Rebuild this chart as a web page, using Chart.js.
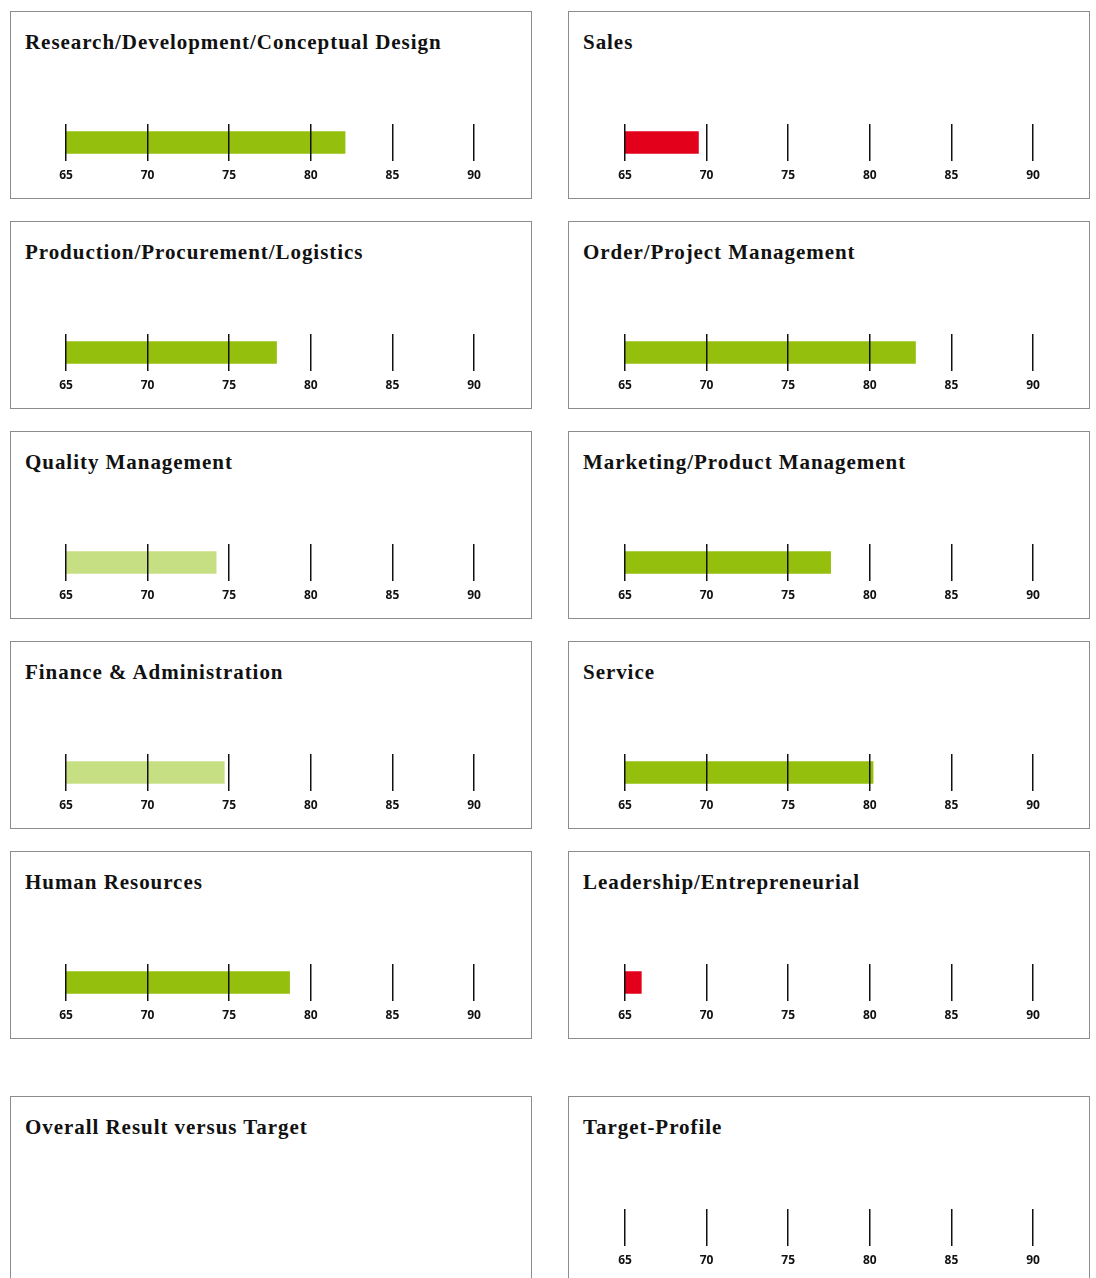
<!DOCTYPE html>
<html>
<head>
<meta charset="utf-8">
<script src="https://cdn.jsdelivr.net/npm/chart.js@4.4.1/dist/chart.umd.min.js"></script>
<style>
  html, body { margin: 0; padding: 0; background: #fff; overflow: hidden; }
  body { width: 1096px; height: 1278px; position: relative; }
  .panel { position: absolute; width: 520px; height: 186px; border: 1px solid #8c8c8c; box-sizing: content-box; }
  .panel h2 { position: absolute; left: 14px; top: 18px; margin: 0; font: bold 21px "Liberation Serif", serif; letter-spacing: 0.95px; color: #111; white-space: nowrap; }
  .panel canvas { position: absolute; left: 0; top: 100px; }
</style>
</head>
<body>
<script>
const titles = [
    'Research/Development/Conceptual Design', 'Sales',
    'Production/Procurement/Logistics', 'Order/Project Management',
    'Quality Management', 'Marketing/Product Management',
    'Finance & Administration', 'Service',
    'Human Resources', 'Leadership/Entrepreneurial',
    'Overall Result versus Target', 'Target-Profile'
];
const scores = [82.1, 69.5, 77.9, 82.8, 74.2, 77.6, 74.7, 80.2, 78.7, 66.0, null, null];
const status = ['good', 'low', 'good', 'good', 'mid', 'good', 'mid', 'good', 'good', 'low', null, null];
const showScale = [true, true, true, true, true, true, true, true, true, true, false, true];
const tickValues = [65, 70, 75, 80, 85, 90];

const statusColors = { good: '#95bf0d', mid: '#c7df83', low: '#e2001a' };
const colX = [10, 568];
const rowY = [11, 221, 431, 641, 851, 1096];

titles.forEach(function (title, i) {
    const panel = document.createElement('div');
    panel.className = 'panel';
    panel.style.left = colX[i % 2] + 'px';
    panel.style.top = rowY[Math.floor(i / 2)] + 'px';
    const h = document.createElement('h2');
    h.textContent = title;
    panel.appendChild(h);
    document.body.appendChild(panel);
    if (!showScale[i]) return;

    const canvas = document.createElement('canvas');
    canvas.width = 520;
    canvas.height = 79;
    panel.appendChild(canvas);

    new Chart(canvas, {
        type: 'bar',
        data: {
            labels: [''],
            datasets: [{
                data: [scores[i]],
                backgroundColor: status[i] ? statusColors[status[i]] : 'rgba(0,0,0,0)',
                barThickness: 22
            }]
        },
        options: {
            indexAxis: 'y',
            responsive: false,
            animation: false,
            events: [],
            layout: { padding: { left: i % 2 ? 56 : 55, right: i % 2 ? 56 : 57, top: 12, bottom: 0 } },
            plugins: { legend: { display: false }, tooltip: { enabled: false } },
            scales: {
                x: {
                    min: tickValues[0],
                    max: tickValues[tickValues.length - 1],
                    border: { display: false },
                    grid: { color: '#111', lineWidth: 1.5, drawTicks: false, z: 1 },
                    ticks: {
                        stepSize: tickValues[1] - tickValues[0],
                        color: '#111',
                        padding: 7,
                        font: { family: 'Open Sans', weight: 'bold', size: 12 }
                    },
                    afterFit: function (s) { s.height = 30; }
                },
                y: { display: false }
            }
        }
    });
});
</script>
</body>
</html>
